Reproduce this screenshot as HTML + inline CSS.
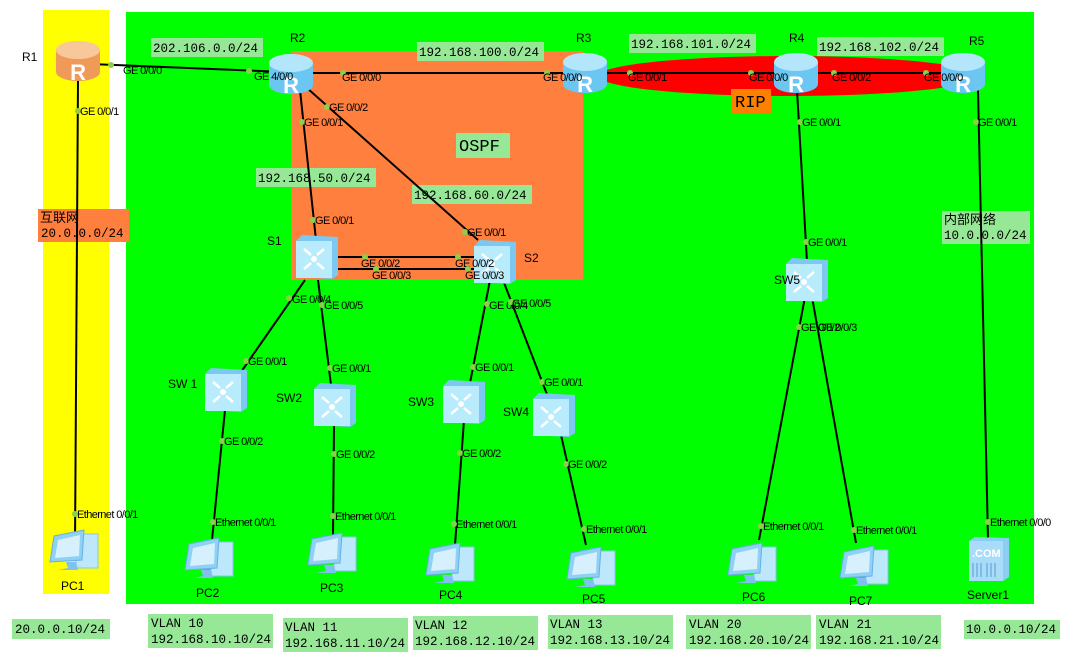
<!DOCTYPE html>
<html><head><meta charset="utf-8"><style>
body{margin:0;background:#fff;}
svg{display:block}
.p{font:11px "Liberation Sans",sans-serif;fill:#000;letter-spacing:-0.6px}
.n{font:12px "Liberation Sans",sans-serif;fill:#000}
.m{font:12.5px "Liberation Mono","DejaVu Sans Mono",monospace;fill:#000}
.cj{font:13px "Liberation Sans","Noto Sans CJK SC",sans-serif;fill:#000}
.l{stroke:#000;stroke-width:2;fill:none}
.d{fill:#8ccf4a}
.lb{fill:#96e896}
</style></head><body>
<svg width="1091" height="668" viewBox="0 0 1091 668" xmlns="http://www.w3.org/2000/svg">
<defs>
<g id="rt">
<path d="M-22,-10 L-22,12 A22,9 0 0 0 22,12 L22,-10 Z" fill="#6cc6f2"/>
<ellipse cx="0" cy="-10" rx="22" ry="9" fill="#b4e6fb"/>
<text x="0" y="20" text-anchor="middle" font-family="Liberation Sans" font-weight="bold" font-size="22" fill="#fff">R</text>
</g>
<g id="ro">
<path d="M-22,-10 L-22,12 A22,9 0 0 0 22,12 L22,-10 Z" fill="#f09a5a"/>
<ellipse cx="0" cy="-10" rx="22" ry="9" fill="#f8c79a"/>
<text x="0" y="20" text-anchor="middle" font-family="Liberation Sans" font-weight="bold" font-size="22" fill="#fff">R</text>
</g>
<g id="sw">
<path d="M-20,-16 L-14,-22 L22,-20 L22,18 L16,22 L-20,20 Z" fill="#7cc8f0"/>
<rect x="-20" y="-16" width="36" height="37" fill="#b8ecfc"/>
<circle cx="-2" cy="2" r="3" fill="#fff"/>
<path d="M-12,-8 L-5,-2 M8,-8 L1,-2 M-12,12 L-5,6 M8,12 L1,6" stroke="#fff" stroke-width="2.5"/>
</g>
<g id="pc">
<rect x="4" y="-16" width="22" height="34" fill="#bde8fb" stroke="#86c4ef"/>
<path d="M-18,-14 L12,-20 L10,10 L-22,12 Z" fill="#8fd0f5" stroke="#6aaee6"/>
<path d="M-14,-10 L8,-15 L7,6 L-17,8 Z" fill="#d6f1fd"/>
<path d="M-6,12 L-4,18 L-14,20 L6,20 L4,12 Z" fill="#7ec0ee"/>
</g>
</defs>

<rect x="43" y="10" width="66" height="584" fill="#ffff00"/>
<rect x="126" y="12" width="908" height="592" fill="#00ff00"/>
<rect x="291" y="51" width="292" height="229" fill="#ff7f3f"/>
<ellipse cx="788" cy="76" rx="190" ry="20" fill="#ff0000"/>
<rect x="731" y="89" width="40" height="25" fill="#ff7f00"/>
<text x="735" y="107" style="font:17px 'Liberation Mono',monospace">RIP</text>
<rect x="456" y="133" width="54" height="25" class="lb"/>
<text x="459" y="151" style="font:17px 'Liberation Mono',monospace">OSPF</text>

<!-- network labels -->
<rect x="151" y="38" width="112" height="19" class="lb"/><text x="153" y="52" class="m">202.106.0.0/24</text>
<rect x="417" y="42" width="127" height="19" class="lb"/><text x="419" y="56" class="m">192.168.100.0/24</text>
<rect x="629" y="34" width="127" height="19" class="lb"/><text x="631" y="48" class="m">192.168.101.0/24</text>
<rect x="817" y="37" width="127" height="19" class="lb"/><text x="819" y="51" class="m">192.168.102.0/24</text>
<rect x="256" y="168" width="120" height="19" class="lb"/><text x="258" y="182" class="m">192.168.50.0/24</text>
<rect x="412" y="185" width="120" height="19" class="lb"/><text x="414" y="199" class="m">192.168.60.0/24</text>
<rect x="38" y="209" width="91" height="33" fill="#ff7f3f"/>
<text x="40" y="222" class="cj">互联网</text><text x="41" y="237" class="m">20.0.0.0/24</text>
<rect x="942" y="211" width="88" height="33" class="lb"/>
<text x="944" y="224" class="cj">内部网络</text><text x="944" y="239" class="m">10.0.0.0/24</text>

<!-- lines -->
<line class="l" x1="78" y1="80" x2="75" y2="545"/>
<line class="l" x1="90" y1="64" x2="285" y2="72"/>
<line class="l" x1="311" y1="73" x2="570" y2="73"/>
<line class="l" x1="603" y1="73" x2="960" y2="73"/>
<line class="l" x1="300" y1="90" x2="316" y2="240"/>
<line class="l" x1="307" y1="88" x2="478" y2="240"/>
<line class="l" x1="335" y1="257" x2="478" y2="257"/>
<line class="l" x1="335" y1="269" x2="480" y2="269"/>
<line class="l" x1="305" y1="280" x2="241" y2="372"/>
<line class="l" x1="318" y1="280" x2="331" y2="385"/>
<line class="l" x1="490" y1="280" x2="470" y2="383"/>
<line class="l" x1="503" y1="280" x2="548" y2="397"/>
<line class="l" x1="225" y1="410" x2="212" y2="540"/>
<line class="l" x1="334" y1="425" x2="333" y2="535"/>
<line class="l" x1="464" y1="420" x2="455" y2="545"/>
<line class="l" x1="561" y1="435" x2="586" y2="545"/>
<line class="l" x1="797" y1="90" x2="807" y2="262"/>
<line class="l" x1="805" y1="297" x2="759" y2="540"/>
<line class="l" x1="812" y1="297" x2="856" y2="543"/>
<line class="l" x1="978" y1="90" x2="988" y2="540"/>

<!-- nodes -->
<use href="#ro" x="78" y="60"/>
<use href="#rt" x="291" y="73"/>
<use href="#rt" x="585" y="72"/>
<use href="#rt" x="796" y="72"/>
<use href="#rt" x="963" y="72"/>
<use href="#sw" x="316" y="257"/>
<use href="#sw" x="494" y="262"/>
<use href="#sw" x="225" y="390"/>
<use href="#sw" x="334" y="405"/>
<use href="#sw" x="463" y="402"/>
<use href="#sw" x="553" y="415"/>
<use href="#sw" x="806" y="280"/>
<use href="#pc" x="72" y="550"/>
<use href="#pc" x="207" y="558"/>
<use href="#pc" x="330" y="553"/>
<use href="#pc" x="448" y="563"/>
<use href="#pc" x="589" y="567"/>
<use href="#pc" x="750" y="563"/>
<use href="#pc" x="862" y="566"/>
<g transform="translate(969,537)">
<path d="M0,4 L6,0 L40,1 L40,40 L34,44 L0,42Z" fill="#8ccdf2"/>
<rect x="0" y="4" width="34" height="40" fill="#a8dcf8"/>
<text x="3" y="20" font-family="Liberation Sans" font-weight="bold" font-size="11" fill="#fff">.COM</text>
<path d="M4,26 V40 M8,26 V40 M12,26 V40 M18,26 V40 M22,26 V40 M26,26 V40" stroke="#5a9ad0"/>
</g>

<!-- node names -->
<text x="22" y="61" class="n">R1</text>
<text x="290" y="42" class="n">R2</text>
<text x="576" y="42" class="n">R3</text>
<text x="789" y="42" class="n">R4</text>
<text x="969" y="45" class="n">R5</text>
<text x="267" y="245" class="n">S1</text>
<text x="524" y="262" class="n">S2</text>
<text x="168" y="388" class="n">SW 1</text>
<text x="276" y="402" class="n">SW2</text>
<text x="408" y="406" class="n">SW3</text>
<text x="503" y="416" class="n">SW4</text>
<text x="774" y="284" class="n">SW5</text>
<text x="61" y="590" class="n">PC1</text>
<text x="196" y="597" class="n">PC2</text>
<text x="320" y="592" class="n">PC3</text>
<text x="439" y="599" class="n">PC4</text>
<text x="582" y="603" class="n">PC5</text>
<text x="742" y="601" class="n">PC6</text>
<text x="849" y="605" class="n">PC7</text>
<text x="967" y="599" class="n">Server1</text>

<!-- port dots + labels -->
<g class="p">
<circle class="d" cx="111" cy="65" r="3"/><text x="123" y="74">GE 0/0/0</text>
<circle class="d" cx="249" cy="71" r="3"/><text x="254" y="80">GE 4/0/0</text>
<circle class="d" cx="343" cy="73" r="3"/><text x="342" y="81">GE 0/0/0</text>
<circle class="d" cx="547" cy="73" r="3"/><text x="543" y="81">GE 0/0/0</text>
<circle class="d" cx="630" cy="73" r="3"/><text x="628" y="81">GE 0/0/1</text>
<circle class="d" cx="751" cy="73" r="3"/><text x="749" y="81">GE 0/0/0</text>
<circle class="d" cx="834" cy="73" r="3"/><text x="832" y="81">GE 0/0/2</text>
<circle class="d" cx="926" cy="73" r="3"/><text x="924" y="81">GE 0/0/0</text>
<circle class="d" cx="78" cy="111" r="3"/><text x="80" y="115">GE 0/0/1</text>
<circle class="d" cx="302" cy="122" r="3"/><text x="304" y="126">GE 0/0/1</text>
<circle class="d" cx="327" cy="107" r="3"/><text x="329" y="111">GE 0/0/2</text>
<circle class="d" cx="313" cy="220" r="3"/><text x="315" y="224">GE 0/0/1</text>
<circle class="d" cx="465" cy="232" r="3"/><text x="467" y="236">GE 0/0/1</text>
<circle class="d" cx="365" cy="257" r="3"/><text x="361" y="267">GE 0/0/2</text>
<circle class="d" cx="458" cy="257" r="3"/><text x="455" y="267">GE 0/0/2</text>
<circle class="d" cx="376" cy="269" r="3"/><text x="372" y="279">GE 0/0/3</text>
<circle class="d" cx="468" cy="269" r="3"/><text x="465" y="279">GE 0/0/3</text>
<circle class="d" cx="289" cy="298" r="3"/><text x="292" y="303">GE 0/0/4</text>
<circle class="d" cx="322" cy="305" r="3"/><text x="324" y="309">GE 0/0/5</text>
<circle class="d" cx="487" cy="304" r="3"/><text x="489" y="309">GE 0/0/4</text>
<circle class="d" cx="511" cy="302" r="3"/><text x="512" y="307">GE 0/0/5</text>
<circle class="d" cx="246" cy="361" r="3"/><text x="248" y="365">GE 0/0/1</text>
<circle class="d" cx="330" cy="368" r="3"/><text x="332" y="372">GE 0/0/1</text>
<circle class="d" cx="473" cy="367" r="3"/><text x="475" y="371">GE 0/0/1</text>
<circle class="d" cx="542" cy="382" r="3"/><text x="544" y="386">GE 0/0/1</text>
<circle class="d" cx="222" cy="441" r="3"/><text x="224" y="445">GE 0/0/2</text>
<circle class="d" cx="334" cy="454" r="3"/><text x="336" y="458">GE 0/0/2</text>
<circle class="d" cx="460" cy="453" r="3"/><text x="462" y="457">GE 0/0/2</text>
<circle class="d" cx="566" cy="464" r="3"/><text x="568" y="468">GE 0/0/2</text>
<circle class="d" cx="213" cy="522" r="3"/><text x="215" y="526">Ethernet 0/0/1</text>
<circle class="d" cx="333" cy="516" r="3"/><text x="335" y="520">Ethernet 0/0/1</text>
<circle class="d" cx="454" cy="524" r="3"/><text x="456" y="528">Ethernet 0/0/1</text>
<circle class="d" cx="584" cy="529" r="3"/><text x="586" y="533">Ethernet 0/0/1</text>
<circle class="d" cx="75" cy="514" r="3"/><text x="77" y="518">Ethernet 0/0/1</text>
<circle class="d" cx="800" cy="122" r="3"/><text x="802" y="126">GE 0/0/1</text>
<circle class="d" cx="976" cy="122" r="3"/><text x="978" y="126">GE 0/0/1</text>
<circle class="d" cx="806" cy="242" r="3"/><text x="808" y="246">GE 0/0/1</text>
<circle class="d" cx="799" cy="327" r="3"/><text x="801" y="331">GE 0/0/2</text><text x="818" y="331">GE 0/0/3</text>
<circle class="d" cx="761" cy="526" r="3"/><text x="763" y="530">Ethernet 0/0/1</text>
<circle class="d" cx="854" cy="530" r="3"/><text x="856" y="534">Ethernet 0/0/1</text>
<circle class="d" cx="988" cy="522" r="3"/><text x="990" y="526">Ethernet 0/0/0</text>
</g>

<!-- bottom labels -->
<rect x="12" y="619" width="98" height="20" class="lb"/><text x="15" y="633" class="m">20.0.0.10/24</text>
<rect x="148" y="614" width="125" height="34" class="lb"/><text x="151" y="627" class="m">VLAN 10</text><text x="151" y="643" class="m">192.168.10.10/24</text>
<rect x="283" y="618" width="125" height="34" class="lb"/><text x="285" y="631" class="m">VLAN 11</text><text x="285" y="647" class="m">192.168.11.10/24</text>
<rect x="413" y="616" width="125" height="34" class="lb"/><text x="415" y="629" class="m">VLAN 12</text><text x="415" y="645" class="m">192.168.12.10/24</text>
<rect x="548" y="615" width="125" height="34" class="lb"/><text x="550" y="628" class="m">VLAN 13</text><text x="550" y="644" class="m">192.168.13.10/24</text>
<rect x="686" y="615" width="125" height="34" class="lb"/><text x="689" y="628" class="m">VLAN 20</text><text x="689" y="644" class="m">192.168.20.10/24</text>
<rect x="816" y="615" width="125" height="34" class="lb"/><text x="819" y="628" class="m">VLAN 21</text><text x="819" y="644" class="m">192.168.21.10/24</text>
<rect x="964" y="620" width="96" height="19" class="lb"/><text x="966" y="633" class="m">10.0.0.10/24</text>
</svg>
</body></html>
